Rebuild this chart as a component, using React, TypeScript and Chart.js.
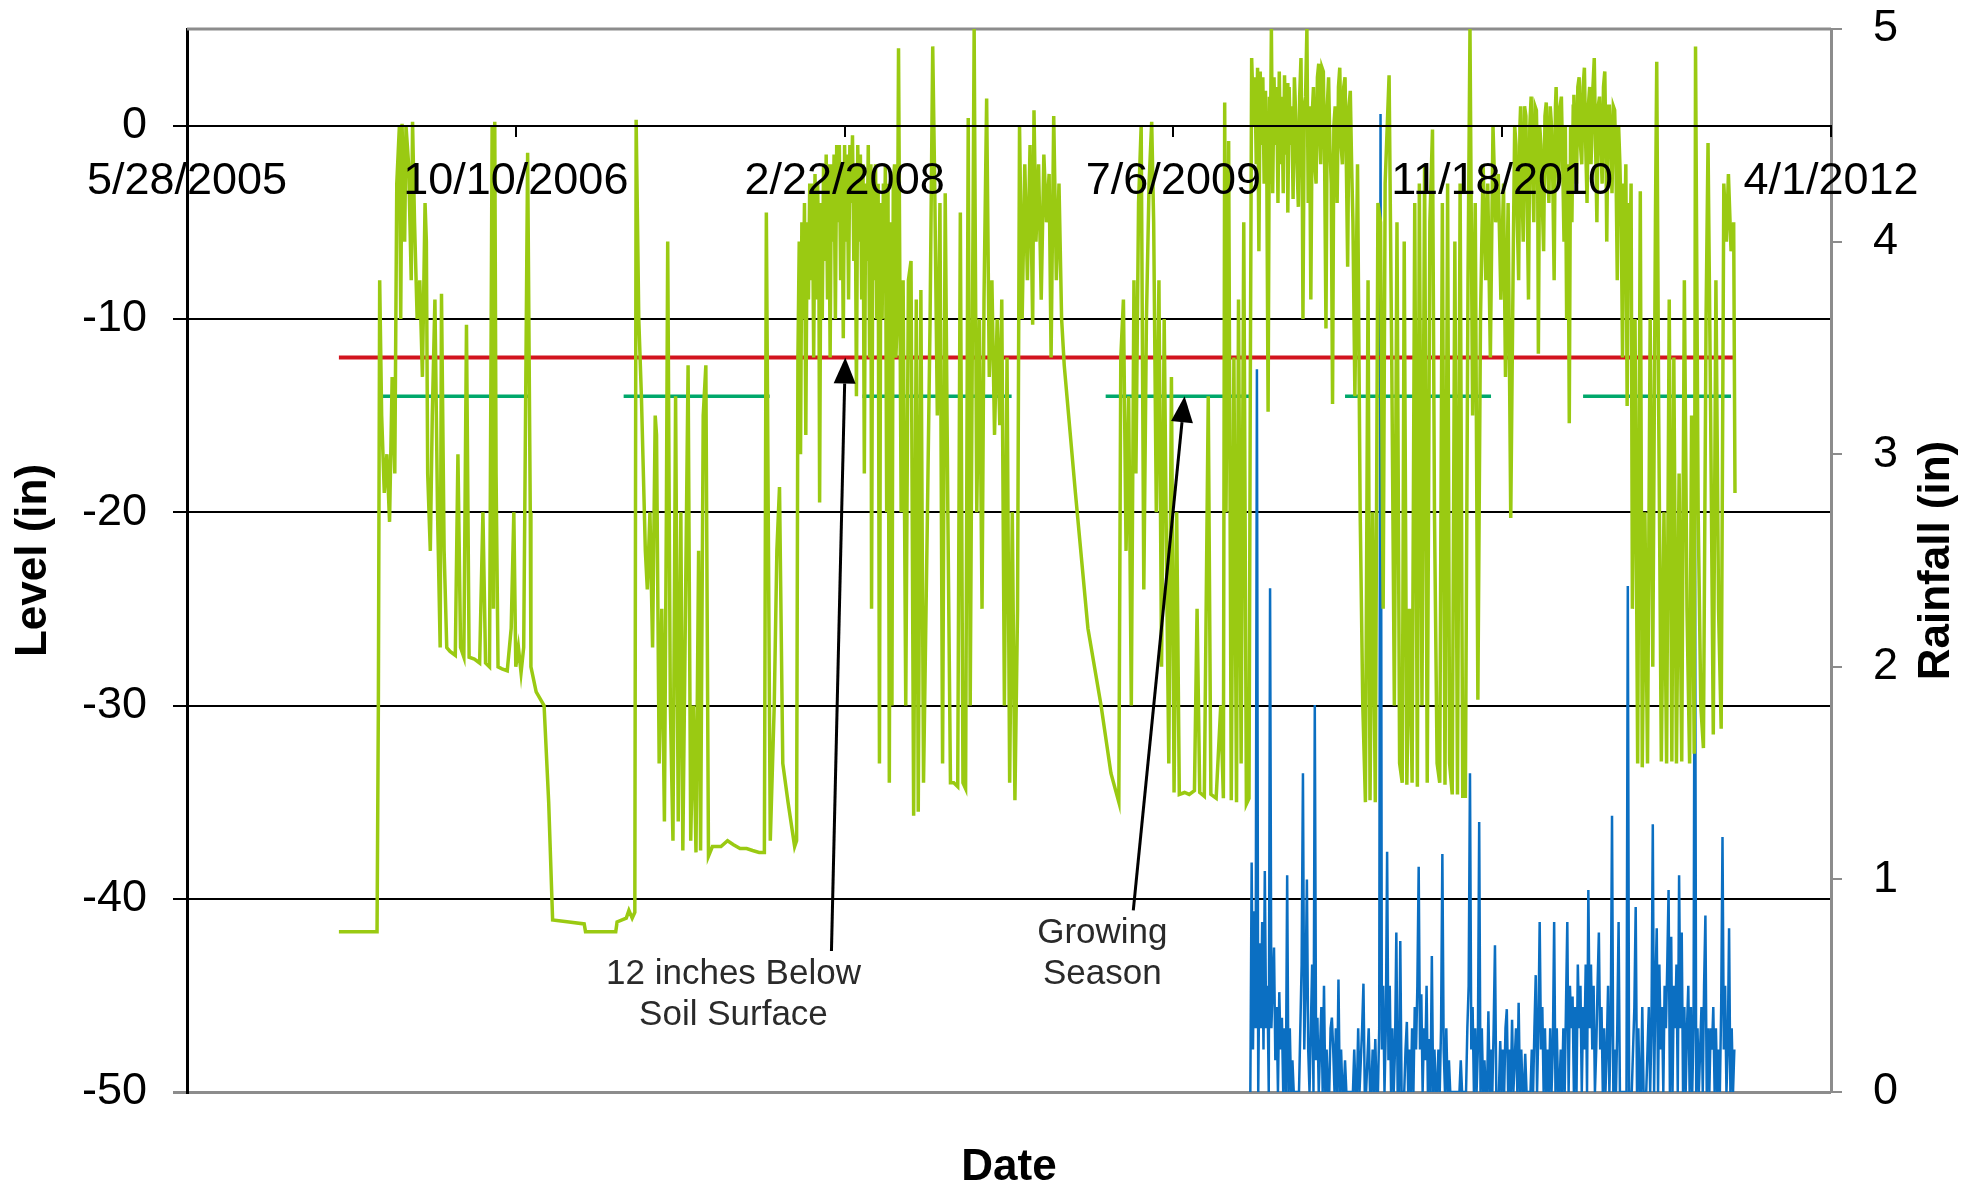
import React, { useEffect, useRef } from 'react';
import { Chart, registerables } from 'chart.js';

Chart.register(...registerables);

const FONT = "'Liberation Sans', Arial, Helvetica, sans-serif";

// x values are days since 5/28/2005
const X_TICK_DAYS = [0, 500, 1000, 1500, 2000, 2500];
const X_TICK_LABELS = ['5/28/2005', '10/10/2006', '2/22/2008', '7/6/2009', '11/18/2010', '4/1/2012'];
const LEVEL_TICKS = [-50, -40, -30, -20, -10, 0];
const RAIN_TICKS = [0, 1, 2, 3, 4, 5];

// Water level (in), [day, level]
const LEVEL_2006 = [
  [231, -41.7], [289, -41.7], [291, -30], [293, -8], [296, -15], [300, -19], [304, -17], [308, -20.5], [312, -13], [316, -18],
  [319, -3], [323, 0], [325, -10], [327, 0.1], [331, -6], [333, 0], [337, -2], [341, -8], [343, 0.2], [346, -5],
  [350, -10], [354, -8], [358, -13], [362, -4], [364, -6], [366, -18], [370, -22], [373, -15], [377, -9], [381, -20],
  [385, -27], [387, -8.7], [391, -22], [395, -27], [400, -27.2], [408, -27.4], [412, -17], [416, -27], [421, -27.5], [425, -10.3],
  [429, -27.5], [437, -27.6], [445, -27.8], [450, -20], [454, -27.8], [460, -28], [464, 0], [466, -25], [468, 0.2], [470, -18],
  [473, -28], [479, -28.1], [487, -28.2], [493, -26], [497, -20], [500, -28], [504, -27], [508, -28.3], [512, -27], [518, -1.4],
  [522, -20], [523, -28], [531, -29.3], [543, -30], [550, -35], [556, -41.1], [581, -41.2], [604, -41.3], [606, -41.7], [652, -41.7],
  [654, -41.2], [668, -41.0], [672, -40.6], [677, -41.0], [681, -40.7],
];
const LEVEL_2007 = [
  [683, 0.3], [687, -10], [691, -14], [697, -22], [700, -24], [704, -20], [708, -27], [712, -15], [714, -16], [718, -33],
  [722, -25], [726, -36], [729, -20], [731, -6], [735, -30], [739, -37], [743, -14], [747, -36], [751, -20], [754, -37.5],
  [758, -25], [762, -12.4], [766, -37], [770, -30], [774, -37.6], [778, -22], [781, -37.5], [785, -15], [789, -12.4], [793, -37.8],
  [799, -37.3], [812, -37.3], [822, -37.0], [831, -37.2], [841, -37.4], [851, -37.4], [860, -37.5], [870, -37.6], [878, -37.6], [881, -4.5],
  [887, -37.0], [893, -30], [897, -22], [901, -18.7], [906, -33], [914, -35], [924, -37.3],
];
const LEVEL_2008 = [
  [927, -37], [929, -12], [931, -6], [933, -17], [935, -5], [937, -10], [939, -4], [941, -16], [943, -5], [945, -9],
  [947, -3], [949, -8], [951, -3], [953, -12], [955, -2.5], [957, -9], [959, -3], [961, -8], [962, -19.5], [964, -4],
  [966, -10], [968, -2], [970, -7], [972, -1.5], [974, -9], [976, -2], [978, -12], [980, -2], [982, -6], [984, -1.5],
  [986, -10], [988, -1], [990, -5], [992, -1], [994, -8], [996, -2], [998, -11], [1000, -1], [1002, -6], [1004, -1.5],
  [1006, -9], [1008, -1], [1010, -4], [1012, -0.5], [1014, -7], [1016, -2], [1018, -14], [1020, -1], [1022, -6], [1024, -1.5],
  [1026, -9], [1028, -2], [1030, -18], [1032, -3], [1034, -7], [1036, -1], [1038, -12], [1040, -2], [1041, -25], [1043, -3],
  [1045, -8], [1047, -2], [1049, -10], [1051, -3], [1053, -33], [1055, -4], [1057, -10], [1059, -3], [1060, -8], [1062, -2],
  [1064, -20], [1066, -3], [1068, -34], [1070, -5], [1072, -30], [1074, -3], [1076, -2], [1078, -12], [1080, -10], [1082, 4.0],
  [1086, -20], [1089, -8], [1093, -30], [1097, -8], [1101, -7], [1105, -35.7], [1109, -9], [1112, -35.5],
  [1116, -8.5], [1120, -34], [1126, -20], [1130, -10], [1134, 4.1], [1137, -3], [1141, -15], [1145, -4], [1149, -33], [1153, -3.5],
  [1157, -20], [1161, -34], [1166, -34], [1172, -34.2], [1176, -4.5], [1180, -34], [1184, -34.3], [1188, 0.4], [1191, -30], [1197, 5.0],
  [1201, -20], [1205, -10], [1209, -25], [1212, -9], [1216, 1.4], [1220, -13], [1224, -8], [1228, -16], [1232, -10], [1236, -15.5],
  [1239, -9], [1243, -30], [1247, -12], [1251, -34], [1255, -20], [1259, -34.9], [1263, -25], [1266, 0], [1270, -10], [1274, -2],
  [1278, -8], [1282, -1], [1286, -10.3], [1288, 0.8], [1291, -6], [1295, -2], [1299, -9], [1303, -1.5], [1307, -5], [1311, -2.5],
  [1314, -12], [1318, 0.5], [1322, -8], [1326, -3], [1330, -10], [1334, -12.4], [1351, -19], [1370, -26], [1390, -30], [1405, -33.5],
  [1417, -35],
];
const LEVEL_2009 = [
  [1420, -12], [1424, -9], [1428, -22], [1432, -14], [1436, -30], [1440, -8], [1443, -18], [1447, -4], [1451, 0], [1455, -24],
  [1459, -10], [1463, -3], [1467, 0.2], [1470, -5], [1474, -20], [1478, -8], [1482, -28], [1486, -10], [1490, -24], [1493, -33],
  [1497, -13], [1501, -34.5], [1505, -20], [1509, -34.6], [1517, -34.5], [1524, -34.6], [1532, -34.4], [1536, -25], [1540, -34.5], [1547, -34.7],
  [1553, -14], [1557, -34.6], [1565, -34.8], [1572, -30], [1576, -34.8], [1578, 1.2], [1580, -20], [1584, -0.8], [1588, -34.9], [1592, -12],
  [1596, -35], [1599, -9], [1603, -33], [1607, -5], [1611, -35.1], [1615, -34.8], [1617, -13], [1619, 3.5],
];
const LEVEL_2010 = [
  [1622, 0], [1624, 2.5], [1626, -2], [1628, 3.0], [1630, -6.5], [1632, 2.8], [1634, -1], [1636, 2.5], [1638, -3], [1640, 1.8],
  [1642, -2], [1644, -14.8], [1646, 1.5], [1647, -3], [1649, 5.0], [1651, -3.5], [1653, 2.5], [1655, -1], [1657, 2.0], [1659, -4.0],
  [1661, 2.8], [1663, -2], [1665, 1.5], [1667, -3.5], [1669, 2.6], [1671, -1.5], [1673, 2.2], [1674, -4.5], [1676, 2.0], [1678, -1],
  [1680, 1.0], [1682, -3.8], [1684, 2.5], [1686, 0.5], [1688, -2], [1690, -4.2], [1692, 1.5], [1694, 3.5], [1696, -3], [1697, -10],
  [1699, 1], [1701, 1.5], [1703, 5.0], [1705, -4], [1707, 1], [1709, -9], [1711, 0.5], [1713, 2.0], [1715, -2], [1717, -3],
  [1719, 2.5], [1721, 3.2], [1723, -1], [1724, -2], [1726, 3], [1728, 2.8], [1730, -2], [1732, -10.5], [1734, 1], [1736, 2.5],
  [1738, -1], [1740, -3], [1742, -14.4], [1744, 0], [1746, 1.0], [1748, -2], [1749, -4], [1751, 2], [1753, 3.0], [1755, -1],
  [1757, -2], [1759, 2], [1761, 2.5], [1763, -2], [1765, -7.3], [1767, 1], [1769, 1.8], [1771, -2], [1773, -5], [1776, -14],
  [1780, -2], [1784, -20], [1788, -30], [1792, -35], [1796, -8], [1799, -34.9], [1803, -20], [1807, -35], [1811, -4], [1815, -5],
  [1819, -25], [1822, -3], [1828, 2.6], [1832, -12], [1836, -30], [1840, -5], [1844, -33], [1848, -34], [1851, -6], [1855, -34.1],
  [1859, -25], [1863, -34], [1867, -4], [1871, -34.2], [1874, -3], [1878, -30], [1882, -2], [1886, -34], [1890, -5], [1894, -0.2],
  [1897, -20], [1901, -33], [1905, -34], [1909, -4], [1913, -34.1], [1917, -3], [1920, -33], [1924, -34.6], [1928, -6], [1932, -34.6],
  [1936, -3], [1940, -34.7], [1944, -34.7], [1948, -8], [1951, 5.0], [1955, -15], [1959, -4], [1963, -29.7], [1967, -10],
];
const LEVEL_2011 = [
  [1971, -2], [1975, -8], [1978, -3], [1982, -12], [1986, 0], [1990, -5], [1994, -2.5], [1998, -9], [2002, -3], [2005, -13],
  [2009, -4], [2013, -20.3], [2017, -6], [2019, 0], [2021, -1], [2023, -5], [2025, -8], [2027, 0], [2028, 1.0], [2030, -3],
  [2032, -6], [2034, 1], [2036, 0.5], [2038, -4], [2040, -9], [2042, 0], [2044, 1.5], [2046, -2], [2048, -5], [2050, 1],
  [2052, 0.8], [2054, -3], [2055, -11.8], [2057, 0], [2059, -1], [2061, -4], [2063, -6.5], [2065, 0.5], [2067, 1.2], [2069, -2],
  [2071, -4], [2073, 1], [2075, 0], [2077, -3], [2079, -8], [2081, 1], [2082, 2.0], [2084, -1], [2086, -3], [2088, 1],
  [2090, 1.5], [2092, -2], [2094, -6], [2096, 0], [2098, -10], [2100, -2], [2102, -15.4], [2104, 0], [2106, -5], [2108, 1],
  [2109, 1.6], [2111, -1], [2113, -3], [2115, 2], [2117, 2.5], [2119, -1], [2121, -2], [2123, 2], [2125, 3.0], [2127, -1],
  [2129, -4], [2131, 1], [2133, 2.0], [2135, -2], [2136, -1], [2138, 2], [2140, 3.5], [2142, -1], [2144, -5], [2146, 1],
  [2148, 1.5], [2150, -1], [2152, -3], [2154, 2], [2156, 2.8], [2158, -2], [2159, -6], [2161, 1], [2163, 1.0], [2165, -1],
  [2167, -3.5], [2169, 1], [2171, 0.8], [2173, -2], [2175, -8], [2177, 0], [2179, -2], [2181, -5], [2183, -12], [2185, -3],
  [2186, -7], [2188, -2], [2190, -14.5], [2192, -4], [2194, -8], [2196, -3], [2198, -25],
  [2202, -10], [2206, -33], [2210, -3.4], [2213, -33.2], [2217, -20], [2221, -33], [2225, -10], [2229, -28], [2233, -5], [2235, 3.3],
  [2238, -15], [2242, -32.9], [2246, -20], [2250, -33], [2254, -9], [2258, -32.9], [2261, -12], [2265, -33], [2269, -18], [2273, -32.9],
  [2277, -8], [2281, -25], [2285, -33], [2288, -15], [2292, -32.5], [2294, 4.1], [2298, -20], [2302, -30], [2306, -32.2], [2310, -10],
  [2313, -0.9], [2317, -15], [2321, -31.5], [2325, -8], [2329, -25], [2333, -31.2], [2337, -3], [2341, -6], [2344, -2.5], [2348, -6.5],
  [2352, -5], [2354, -19],
];

// Rainfall (in), sampled every RAIN_STEP_DAYS from RAIN_START_DAY
const RAIN_START_DAY = 1617;
const RAIN_STEP_DAYS = 2;
const RAIN_VALUES = [
  0, 1.08, 0.2, 0.85, 0.3, 3.4, 0, 0.7, 0.3, 0.8, 0.2, 1.04, 0.3, 0.5, 0, 2.37, 0.3, 0.5, 0.68, 0.15,
  0.4, 0, 0.47, 0.2, 0.35, 0, 0.3, 0, 1.02, 0, 0.3, 0, 0.15, 0, 0, 0, 0, 0, 0.3, 0.6,
  1.5, 0.2, 0.5, 1.0, 0.2, 0, 0.3, 0.6, 0, 1.82, 0.15, 0.35, 0, 0.2, 0.4, 0, 0.5, 0, 0.2, 0,
  0, 0.3, 0.35, 0.2, 0, 0.3, 0, 0.53, 0, 0.2, 0, 0, 0.15, 0, 0, 0, 0, 0, 0, 0.2,
  0, 0, 0.3, 0, 0.15, 0.3, 0.51, 0, 0, 0.15, 0.3, 0, 0, 0.2, 0, 0.25, 0, 0, 0.3, 4.6,
  0.2, 0.5, 0, 0.3, 1.13, 0.15, 0.5, 0, 0.3, 0, 0.2, 0.75, 0, 0, 0.71, 0, 0, 0, 0.2, 0.33,
  0, 0.2, 0, 0.3, 0, 0.4, 0.2, 0.5, 1.06, 0.2, 0.46, 0, 0.3, 0.15, 0.5, 0, 0.25, 0, 0.64, 0,
  0.2, 0, 0, 0.2, 0, 0.3, 1.12, 0.2, 0, 0.3, 0, 0.15, 0, 0, 0, 0, 0, 0, 0, 0,
  0.15, 0, 0, 0, 0, 0.3, 0.5, 1.5, 0.2, 0.4, 0, 0.3, 0, 0.2, 1.27, 0, 0.3, 0, 0.15, 0,
  0, 0.38, 0, 0.2, 0, 0.3, 0.69, 0, 0, 0, 0.24, 0, 0.2, 0, 0.3, 0.39, 0, 0.2, 0, 0.34,
  0, 0.15, 0.3, 0, 0.42, 0, 0.2, 0, 0, 0.18, 0, 0, 0, 0, 0.2, 0, 0.3, 0.55, 0, 0.3,
  0.8, 0.2, 0.4, 0, 0.3, 0, 0.2, 0, 0.3, 0, 0.2, 0.8, 0, 0.3, 0, 0, 0.2, 0, 0.3, 0,
  0.4, 0.8, 0, 0.5, 0.3, 0.45, 0, 0.4, 0, 0.6, 0.3, 0.5, 0, 0.4, 0.2, 0.6, 0, 0.95, 0.3, 0.6,
  0.2, 0.5, 0, 0.2, 0.5, 0.75, 0.2, 0.4, 0, 0.3, 0, 0.2, 0.5, 0, 0.3, 1.3, 0, 0.2, 0, 0.3,
  0.8, 0, 0, 0, 0, 0, 0, 2.38, 0, 0, 0, 0.2, 0.4, 0.87, 0, 0.3, 0, 0, 0.4, 0,
  0, 0, 0.2, 0.4, 0, 0.3, 1.26, 0, 0.5, 0.77, 0, 0.6, 0.2, 0.4, 0, 0.5, 0.3, 0.6, 0.95, 0,
  0.73, 0, 0.5, 0.3, 0.6, 0, 1.02, 0.3, 0.75, 0, 0.4, 0, 0.3, 0.5, 0, 0.4, 0, 0.3, 2.92, 0,
  0.3, 0, 0.2, 0.4, 0, 0.5, 0.83, 0, 0.3, 0, 0.3, 0.2, 0.4, 0, 0.3, 0, 0.2, 0, 0.4, 1.2,
  0.2, 0.5, 0, 0.2, 0.77, 0, 0.3, 0, 0.2,
];

// Reference lines
const THRESHOLD_LEVEL = -12;
const THRESHOLD_DAYS = [231, 2353];
const SEASON_LEVEL = -14;
const SEASON_STARTS = [296, 664, 1027, 1397, 1761, 2123];
const SEASON_ENDS = [523, 886, 1254, 1615, 1983, 2348];

// Annotations (data coordinates: [day, level])
const ANNOTATION_LINES = [['12 inches Below', 'Soil Surface'], ['Growing', 'Season']];
const ANNOTATION_ANCHORS = [[831, -43.9], [1392, -41.8]];
const ARROW_TAILS = [[980, -42.7], [1439, -40.6]];
const ARROW_TIPS = [[1001, -12], [1517, -14]];

const LEVEL_SERIES = [...LEVEL_2006, ...LEVEL_2007, ...LEVEL_2008, ...LEVEL_2009, ...LEVEL_2010, ...LEVEL_2011];

const overlayPlugin = {
  id: 'overlay',
  beforeDatasetsDraw(chart: any) {
    const { ctx, chartArea } = chart;
    ctx.save();
    ctx.strokeStyle = '#8c8c8c';
    ctx.lineWidth = 3;
    ctx.beginPath();
    ctx.moveTo(chartArea.left, chartArea.top);
    ctx.lineTo(chartArea.right, chartArea.top);
    ctx.stroke();
    ctx.restore();
  },
  afterDatasetsDraw(chart: any) {
    const { ctx, scales, chartArea } = chart;
    const xs = scales.x;
    const ys = scales.y;
    ctx.save();
    ctx.strokeStyle = '#000';
    ctx.fillStyle = '#000';
    ctx.lineWidth = 3;
    for (let i = 0; i < ARROW_TAILS.length; i++) {
      const tx = xs.getPixelForValue(ARROW_TAILS[i][0]);
      const ty = ys.getPixelForValue(ARROW_TAILS[i][1]);
      const hx = xs.getPixelForValue(ARROW_TIPS[i][0]);
      const hy = ys.getPixelForValue(ARROW_TIPS[i][1]);
      const ang = Math.atan2(hy - ty, hx - tx);
      const headLen = 26;
      const headHalf = 11;
      const bx = hx - headLen * Math.cos(ang);
      const by = hy - headLen * Math.sin(ang);
      ctx.beginPath();
      ctx.moveTo(tx, ty);
      ctx.lineTo(bx, by);
      ctx.stroke();
      ctx.beginPath();
      ctx.moveTo(hx, hy);
      ctx.lineTo(bx + headHalf * Math.sin(ang), by - headHalf * Math.cos(ang));
      ctx.lineTo(bx - headHalf * Math.sin(ang), by + headHalf * Math.cos(ang));
      ctx.closePath();
      ctx.fill();
    }
    ctx.fillStyle = '#2a2a2a';
    ctx.font = `35px ${FONT}`;
    ctx.textAlign = 'center';
    ctx.textBaseline = 'middle';
    for (let i = 0; i < ANNOTATION_LINES.length; i++) {
      const ax = xs.getPixelForValue(ANNOTATION_ANCHORS[i][0]);
      const ay = ys.getPixelForValue(ANNOTATION_ANCHORS[i][1]);
      ANNOTATION_LINES[i].forEach((line, j) => ctx.fillText(line, ax, ay + j * 41));
    }
    // right axis title, reading bottom to top
    const y2 = scales.y2;
    ctx.fillStyle = '#000';
    ctx.font = `bold 44px ${FONT}`;
    ctx.translate(y2.right - 47, (chartArea.top + chartArea.bottom) / 2);
    ctx.rotate(-Math.PI / 2);
    ctx.fillText('Rainfall (in)', 0, 0);
    ctx.restore();
  },
};

export default function App() {
  const ref = useRef<HTMLCanvasElement>(null);

  useEffect(() => {
    const canvas = ref.current;
    if (!canvas) return;

    const seasonData: any[] = [];
    SEASON_STARTS.forEach((s, i) => {
      seasonData.push({ x: s, y: SEASON_LEVEL });
      seasonData.push({ x: SEASON_ENDS[i], y: SEASON_LEVEL });
      seasonData.push({ x: SEASON_ENDS[i] + 1, y: null });
    });

    const chart = new Chart(canvas, {
      type: 'line',
      data: {
        datasets: [
          {
            label: 'Level',
            data: LEVEL_SERIES.map(([d, v]) => ({ x: d, y: v })),
            borderColor: '#9ACA12',
            borderWidth: 3.5,
            pointRadius: 0,
            tension: 0,
            yAxisID: 'y',
            xAxisID: 'x',
          },
          {
            label: '12 inches below soil surface',
            data: THRESHOLD_DAYS.map((d) => ({ x: d, y: THRESHOLD_LEVEL })),
            borderColor: '#D2141E',
            borderWidth: 4,
            pointRadius: 0,
            yAxisID: 'y',
            xAxisID: 'x',
          },
          {
            label: 'Growing season',
            data: seasonData,
            borderColor: '#00A86B',
            borderWidth: 3.5,
            pointRadius: 0,
            spanGaps: false,
            yAxisID: 'y',
            xAxisID: 'x',
          },
          {
            label: 'Rainfall',
            data: RAIN_VALUES.map((v, i) => ({ x: RAIN_START_DAY + i * RAIN_STEP_DAYS, y: v })),
            borderColor: '#0B6FC2',
            borderWidth: 2.5,
            pointRadius: 0,
            tension: 0,
            yAxisID: 'y2',
            xAxisID: 'x',
          },
        ],
      },
      options: {
        animation: false,
        responsive: false,
        devicePixelRatio: 1,
        events: [],
        layout: { padding: { top: 29, left: 0, right: 0, bottom: 0 } },
        plugins: {
          legend: { display: false },
          tooltip: { enabled: false },
          title: {
            display: true,
            text: 'Date',
            position: 'bottom',
            fullSize: false,
            color: '#000',
            font: { family: FONT, size: 44, weight: 'bold', lineHeight: 0.93 },
            padding: { top: 55, bottom: 0 },
          },
        },
        scales: {
          x: {
            type: 'linear',
            position: { y: 0 },
            min: 0,
            max: 2500,
            afterBuildTicks: (scale: any) => {
              scale.ticks = X_TICK_DAYS.map((v) => ({ value: v }));
            },
            grid: { drawOnChartArea: false, drawTicks: true, tickLength: 10, color: '#000', lineWidth: 2, z: 1 },
            border: { display: true, color: '#000', width: 2, z: 1 },
            ticks: {
              z: 1,
              autoSkip: false,
              maxRotation: 0,
              minRotation: 0,
              padding: 19,
              color: '#000',
              font: { family: FONT, size: 45 },
              callback: (v: any) => {
                const idx = X_TICK_DAYS.indexOf(Number(v));
                return idx >= 0 ? X_TICK_LABELS[idx] : '';
              },
            },
          },
          y: {
            type: 'linear',
            position: 'left',
            min: -50,
            max: 5,
            afterBuildTicks: (scale: any) => {
              scale.ticks = LEVEL_TICKS.map((v) => ({ value: v }));
            },
            afterFit: (scale: any) => {
              scale.width = 187;
              scale.paddingTop = 0;
              scale.paddingBottom = 0;
            },
            grid: {
              color: (c: any) => (c.tick && c.tick.value === -50 ? '#8c8c8c' : '#000'),
              lineWidth: (c: any) => (c.tick && c.tick.value === -50 ? 3 : 2),
              tickLength: 14,
              drawTicks: true,
            },
            border: { display: true, color: '#000', width: 3 },
            ticks: { padding: 26, color: '#000', font: { family: FONT, size: 45 } },
            title: {
              display: true,
              text: 'Level (in)',
              color: '#000',
              font: { family: FONT, size: 44, weight: 'bold' },
              padding: { top: 7, bottom: 0 },
            },
          },
          y2: {
            type: 'linear',
            position: 'right',
            min: 0,
            max: 5,
            afterBuildTicks: (scale: any) => {
              scale.ticks = RAIN_TICKS.map((v) => ({ value: v }));
            },
            afterFit: (scale: any) => {
              scale.width = 153;
              scale.paddingTop = 0;
              scale.paddingBottom = 0;
            },
            grid: { drawOnChartArea: false, drawTicks: true, tickLength: 11, color: '#8c8c8c', lineWidth: 2 },
            border: { display: true, color: '#8c8c8c', width: 3 },
            ticks: { padding: 31, color: '#000', font: { family: FONT, size: 45 } },
          },
        },
      } as any,
      plugins: [overlayPlugin],
    } as any);

    return () => chart.destroy();
  }, []);

  return (
    <div style={{ position: 'absolute', left: 0, top: 0, width: 1984, height: 1188, background: '#fff' }}>
      <canvas ref={ref} width={1984} height={1188} style={{ display: 'block', width: 1984, height: 1188 }} />
    </div>
  );
}
